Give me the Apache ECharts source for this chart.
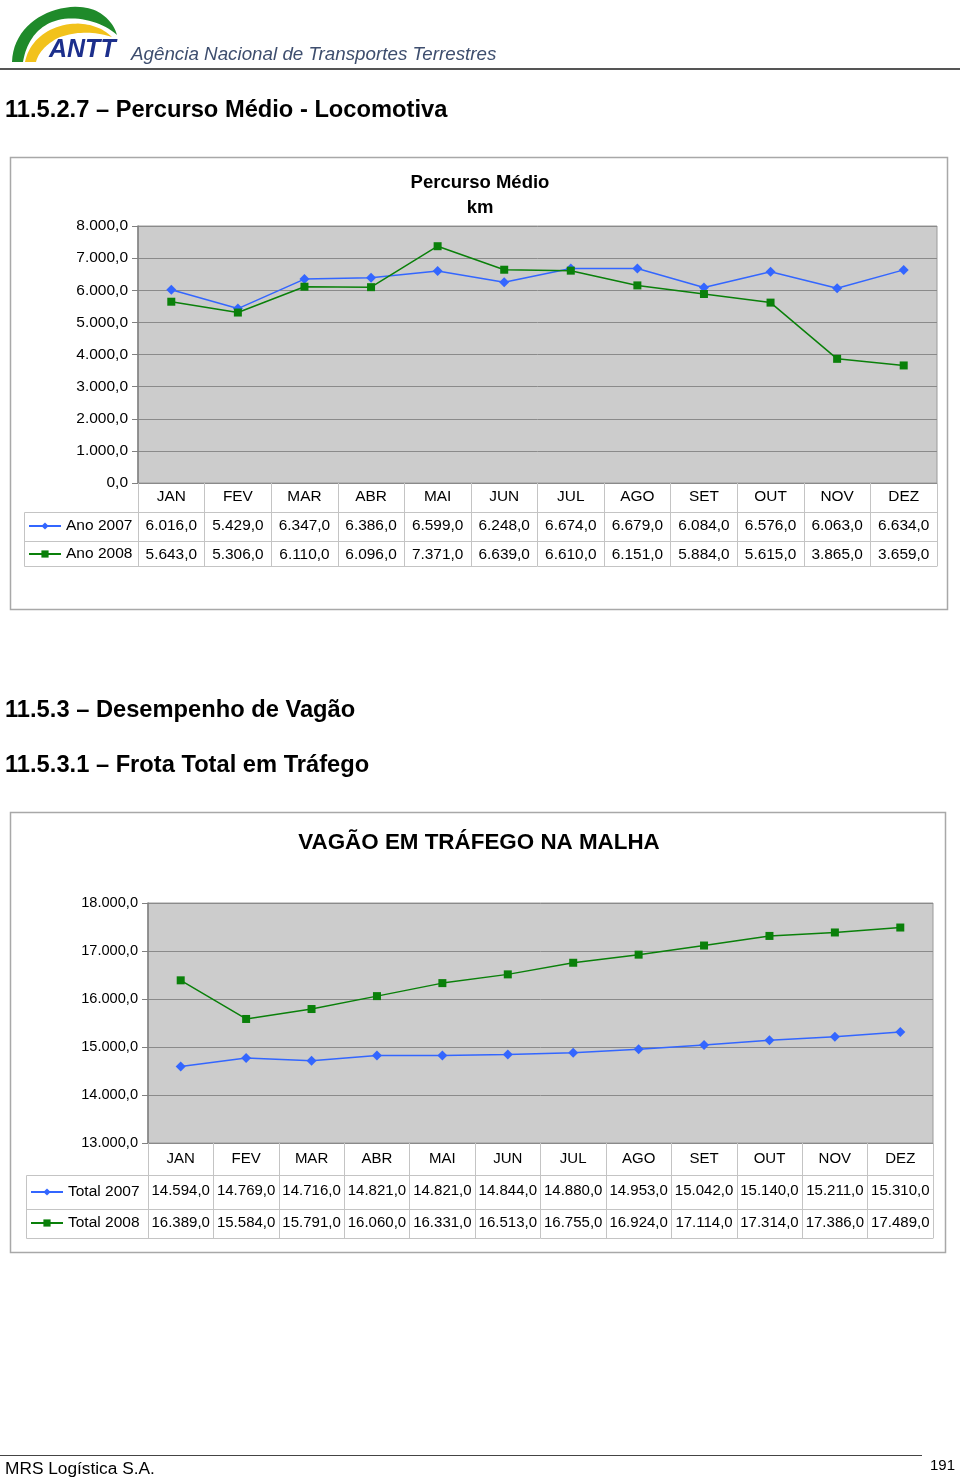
<!DOCTYPE html>
<html>
<head>
<meta charset="utf-8">
<script src="https://cdn.jsdelivr.net/npm/echarts@6/dist/echarts.min.js"></script>
<style>
html,body{margin:0;padding:0;background:#fff;}
#c{width:960px;height:1480px;}
</style>
</head>
<body>
<div id="c"></div>
<script>
// ---------- DATA ----------
const months = ['JAN','FEV','MAR','ABR','MAI','JUN','JUL','AGO','SET','OUT','NOV','DEZ'];

const loco2007 = [6016,5429,6347,6386,6599,6248,6674,6679,6084,6576,6063,6634];
const loco2008 = [5643,5306,6110,6096,7371,6639,6610,6151,5884,5615,3865,3659];

const vagao2007 = [14594,14769,14716,14821,14821,14844,14880,14953,15042,15140,15211,15310];
const vagao2008 = [16389,15584,15791,16060,16331,16513,16755,16924,17114,17314,17386,17489];

const locoSeriesNames = ['Ano 2007','Ano 2008'];
const vagaoSeriesNames = ['Total 2007','Total 2008'];

// ---------- HELPERS ----------
function fmt(v){
  const s = Math.round(v).toString();
  return s.replace(/\B(?=(\d{3})+(?!\d))/g,'.') + ',0';
}
const FONT = '"Liberation Sans", Arial, Helvetica, sans-serif';
const BLUE = '#3366ff';
const GREEN = '#0a800a';
const GRIDC = '#8a8a8a';
const TABC = '#c4c4c4';

// sample a cubic bezier for decorative logo shapes
function bez(p0,p1,p2,p3,n){
  const pts=[];
  for(let i=0;i<=n;i++){
    const t=i/n, u=1-t;
    pts.push([
      u*u*u*p0[0]+3*u*u*t*p1[0]+3*u*t*t*p2[0]+t*t*t*p3[0],
      u*u*u*p0[1]+3*u*u*t*p1[1]+3*u*t*t*p2[1]+t*t*t*p3[1]
    ]);
  }
  return pts;
}
const greenShape = bez([12,62],[13,26],[48,5],[80,7],20)
  .concat(bez([80,7],[100,8],[113,21],[117,35],20))
  .concat(bez([117,35],[100,20],[72,14],[52,22],20))
  .concat(bez([52,22],[35,29],[26,44],[23,62],20));
const yellowShape = bez([25,62],[29,42],[46,27],[70,24],20)
  .concat(bez([70,24],[88,22],[103,28],[112,37],20))
  .concat(bez([112,37],[95,31],[72,31],[56,39],20))
  .concat(bez([56,39],[44,46],[38,54],[36,62],20));

function tableAxes(gridIndex, cats, rowsOffsets, rowsData, bottomOffset, labelMargin, fs){
  const axes = [];
  axes.push({
    type:'category', gridIndex, data:cats, position:'bottom', boundaryGap:true,
    axisLine:{show:true,lineStyle:{color:'#8a8a8a',width:1}},
    axisTick:{show:true,interval:0,length:bottomOffset,lineStyle:{color:TABC}},
    axisLabel:{interval:0,margin:labelMargin[0],color:'#000',fontFamily:FONT,fontSize:fs},
    splitLine:{show:false}
  });
  rowsData.forEach((d,i)=>{
    axes.push({
      type:'category', gridIndex, data:d.map(fmt), position:'bottom', offset:rowsOffsets[i], boundaryGap:true,
      axisLine:{show:true,lineStyle:{color:TABC}},
      axisTick:{show:false},
      axisLabel:{interval:0,margin:labelMargin[i+1],color:'#000',fontFamily:FONT,fontSize:fs},
      splitLine:{show:false}
    });
  });
  axes.push({
    type:'category', gridIndex, data:cats.map(()=>''), position:'bottom', offset:bottomOffset, boundaryGap:true,
    axisLine:{show:true,lineStyle:{color:TABC}},
    axisTick:{show:false}, axisLabel:{show:false}, splitLine:{show:false}
  });
  return axes;
}

const xAxes = [].concat(
  tableAxes(0, months, [29,58], [loco2007, loco2008], 83, [6,6,6], 15.4),
  tableAxes(1, months, [32,66], [vagao2007, vagao2008], 95, [8,8,6], 15)
);

function yAxisOf(grid, min, max, fs){
  return {
    type:'value', gridIndex:grid, min, max, interval:1000,
    axisLine:{show:true,lineStyle:{color:'#808080',width:1.5}},
    axisTick:{show:true,length:6,lineStyle:{color:'#808080'}},
    splitLine:{show:true,lineStyle:{color:GRIDC,width:1}},
    axisLabel:{formatter:fmt,color:'#000',fontFamily:FONT,fontSize:fs,margin:10}
  };
}

function legendFor(name, top, left){
  return {
    data:[name], left, top, orient:'horizontal', padding:0,
    itemWidth:32, itemHeight:9, selectedMode:false,
    textStyle:{color:'#000',fontFamily:FONT,fontSize:15.5}, itemGap:4
  };
}

const H = '"Liberation Sans", Arial, sans-serif';
const graphics = [
  {type:'polygon', shape:{points:greenShape}, style:{fill:'#1f8a2a'}},
  {type:'polygon', shape:{points:yellowShape}, style:{fill:'#f2c21b'}},
  {type:'text', x:49, y:50, style:{text:'ANTT', fill:'#1c2f8c', font:'italic bold 25px '+H, textVerticalAlign:'middle'}},
  {type:'text', x:131, y:55, style:{text:'Agência Nacional de Transportes Terrestres', fill:'#3e4e6e', font:'italic 18.8px '+H, textVerticalAlign:'middle'}},
  {type:'line', shape:{x1:0,y1:69,x2:960,y2:69}, style:{stroke:'#555',lineWidth:2}},

  {type:'text', x:5, y:110, style:{text:'11.5.2.7 – Percurso Médio - Locomotiva', fill:'#000', font:'bold 23.7px '+H, textVerticalAlign:'middle'}},
  {type:'text', x:5, y:710, style:{text:'11.5.3 – Desempenho de Vagão', fill:'#000', font:'bold 23.7px '+H, textVerticalAlign:'middle'}},
  {type:'text', x:5, y:765, style:{text:'11.5.3.1 – Frota Total em Tráfego', fill:'#000', font:'bold 23.7px '+H, textVerticalAlign:'middle'}},

  {type:'rect', z:-10, shape:{x:10.5,y:157.5,width:937,height:452}, style:{fill:'#fff',stroke:'#a8a8a8',lineWidth:1.5}},
  {type:'rect', z:-10, shape:{x:10.5,y:812.5,width:935,height:440}, style:{fill:'#fff',stroke:'#a8a8a8',lineWidth:1.5}},

  {type:'text', x:480, y:183, style:{text:'Percurso Médio', fill:'#000', font:'bold 18.5px '+H, textAlign:'center', textVerticalAlign:'middle'}},
  {type:'text', x:480, y:208, style:{text:'km', fill:'#000', font:'bold 18.5px '+H, textAlign:'center', textVerticalAlign:'middle'}},
  {type:'text', x:479, y:843, style:{text:'VAGÃO EM TRÁFEGO NA MALHA', fill:'#000', font:'bold 22.4px '+H, textAlign:'center', textVerticalAlign:'middle'}},

  {type:'rect', shape:{x:24.5,y:512.5,width:114,height:54}, style:{fill:'none',stroke:TABC,lineWidth:1}},
  {type:'line', shape:{x1:24.5,y1:541.5,x2:138,y2:541.5}, style:{stroke:TABC,lineWidth:1}},
  {type:'rect', shape:{x:26.5,y:1175.5,width:122,height:63}, style:{fill:'none',stroke:TABC,lineWidth:1}},
  {type:'line', shape:{x1:26.5,y1:1209.5,x2:148,y2:1209.5}, style:{stroke:TABC,lineWidth:1}},

  {type:'line', shape:{x1:0,y1:1455.5,x2:922,y2:1455.5}, style:{stroke:'#444',lineWidth:1.2}},
  {type:'text', x:5, y:1469, style:{text:'MRS Logística S.A.', fill:'#000', font:'17.3px '+H, textVerticalAlign:'middle'}},
  {type:'text', x:955, y:1466, style:{text:'191', fill:'#000', font:'15px '+H, textAlign:'right', textVerticalAlign:'middle'}}
];

function lineSeries(name, data, xi, yi, color, symbol, size){
  return {
    name, type:'line', data, xAxisIndex:xi, yAxisIndex:yi,
    symbol, symbolSize:size, showSymbol:true, animation:false,
    lineStyle:{color, width:1.5}, itemStyle:{color},
    emphasis:{disabled:true}
  };
}

const option = {
  animation:false,
  backgroundColor:'#fff',
  grid:[
    {left:138, top:226, width:799, height:257, show:true, backgroundColor:'#cccccc', borderColor:'#9a9a9a', borderWidth:1},
    {left:148, top:903, width:785, height:240, show:true, backgroundColor:'#cccccc', borderColor:'#9a9a9a', borderWidth:1}
  ],
  xAxis: xAxes,
  yAxis:[
    yAxisOf(0, 0, 8000, 15.5),
    yAxisOf(1, 13000, 18000, 14.6)
  ],
  legend:[
    legendFor(locoSeriesNames[0], 518, 28),
    legendFor(locoSeriesNames[1], 546, 28),
    legendFor(vagaoSeriesNames[0], 1184, 30),
    legendFor(vagaoSeriesNames[1], 1215, 30)
  ],
  graphic: graphics,
  series:[
    lineSeries(locoSeriesNames[0], loco2007, 0, 0, BLUE, 'diamond', 10),
    lineSeries(locoSeriesNames[1], loco2008, 0, 0, GREEN, 'rect', 8),
    lineSeries(vagaoSeriesNames[0], vagao2007, 4, 1, BLUE, 'diamond', 10),
    lineSeries(vagaoSeriesNames[1], vagao2008, 4, 1, GREEN, 'rect', 8)
  ]
};

const chart = echarts.init(document.getElementById('c'), null, {renderer:'canvas'});
chart.setOption(option);
</script>
</body>
</html>
